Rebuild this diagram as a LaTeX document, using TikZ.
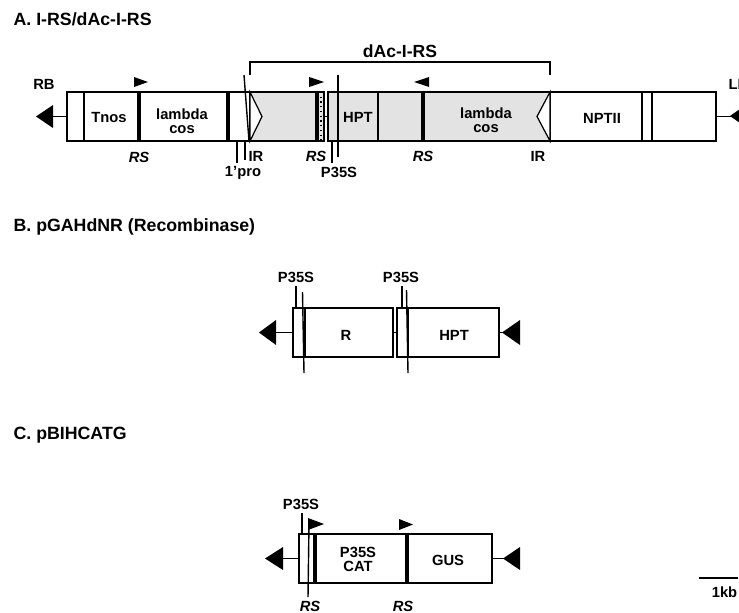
\documentclass[tikz,border=0pt]{standalone}
\usepackage{fontspec}
\setmainfont{Liberation Sans}
\begin{document}
\begin{tikzpicture}[x=0.02cm,y=-0.02cm,line width=0.7pt,font=\fontsize{8.4}{8.2}\selectfont\bfseries,align=center]
  \tikzstyle{part}=[draw,anchor=west,inner sep=0pt,outer sep=0pt,minimum height=0.98cm,minimum width=#1*0.02cm]
  \tikzstyle{grey}=[fill=black!11]
  \tikzstyle{title}=[anchor=west,inner sep=0pt,font=\fontsize{10.1}{12}\selectfont\bfseries]
  \tikzstyle{rs}=[font=\fontsize{8.4}{9.5}\selectfont\bfseries\itshape]
  \tikzstyle{bar}=[line width=2.2pt]
  \tikzstyle{hair}=[line width=0.8pt]
  \tikzstyle{stalk}=[line width=1.1pt]
  \useasboundingbox (0,0) rectangle (739,612);
  % A
  \node[title] (titleA) at (13,19) {A. I-RS/dAc-I-RS};
  \node[part=17] (rbend) at (67,116.5) {};
  \node[part=55] (tnos) at (84,116.5) {};
  \node[part=89] (lamA) at (139,116.5) {};
  \node[part=22] (pro) at (228,116.5) {};
  \node[part=74,grey] (ir) at (250,116.5) {};
  \node[part=10,grey] (pA) at (328,116.5) {};
  \node[part=40,grey] (hptA) at (338,116.5) {};
  \node[part=45,grey] (spacer) at (378,116.5) {};
  \node[part=127,grey] (lamB) at (423,116.5) {};
  \node[part=92] (nptii) at (550,116.5) {};
  \node[part=10] (gap) at (642,116.5) {};
  \node[part=64] (lbend) at (652,116.5) {};
  \draw[stalk] (ir.east) -- (pA.west);
  \draw[fill=white] (ir.north west) -- (262,116.5) -- (ir.south west) -- cycle;
  \draw[fill=white] (lamB.north east) -- (537,116.5) -- (lamB.south east) -- cycle;
  \draw[bar] (tnos.north east) -- (tnos.south east);
  \draw[bar] (lamA.north east) -- (lamA.south east);
  \draw[bar] (317,92) -- (317,141);
  \draw[dotted] (321,92) -- (321,141);
  \draw[bar] (spacer.north east) -- (spacer.south east);
  \draw[line width=1pt] (hptA.north west) -- (hptA.south west);
  \node (tnost) at (109,117) {Tnos};
  \node (lamAt) at (182,121) {lambda\\cos};
  \node (hptAt) at (358,117) {HPT};
  \node (lamBt) at (486,120) {lambda\\cos};
  \node (npt) at (602,118) {NPTII};
  % pointers above and below
  \coordinate (slanttop) at (244,75);
  \coordinate (slantbot) at (249,141);
  \draw[hair] (slanttop) -- (slantbot);
  \draw[hair] (338,75) -- (338,157);
  \coordinate (braceL) at (250,75);
  \coordinate (braceR) at (550,75);
  \draw (braceL) -- (250,62) -- (550,62) -- (braceR);
  \node (dac) at (400,51) {\fontsize{10}{12}\selectfont dAc-I-RS};
  \fill (134,77) -- (148,82) -- (134,87) -- cycle;
  \fill (309,77) -- (324,82) -- (309,87) -- cycle;
  \fill (429,77) -- (414,82) -- (429,87) -- cycle;
  \draw[hair] (237,141) -- (237,163);
  \draw[hair] (245,141) -- (245,160);
  \draw[hair] (332,141) -- (332,163);
  \node (rb) at (44,84) {RB};
  \node[anchor=west,inner sep=0pt] (lb) at (728,84) {LB};
  \coordinate (rbtip) at (53,116.5);
  \draw[stalk] (rbend.west) -- (rbtip);
  \fill (36,116.5) -- (53,105) -- (53,128) -- cycle;
  \coordinate (lbtip) at (731,116.5);
  \draw[stalk] (lbend.east) -- (lbtip);
  \fill (730,116) -- (747,104) -- (747,128) -- cycle;
  \node[rs] (rs1) at (139,157) {RS};
  \node (ir1) at (256,156) {IR};
  \node (pro1) at (243,173) {1'pro};
  \node[rs] (rs2) at (316,156) {RS};
  \node (p35a) at (339,172) {P35S};
  \node[rs] (rs3) at (423,156) {RS};
  \node (ir2) at (538,156) {IR};
  % B
  \node[title] (titleB) at (13,227) {B. pGAHdNR (Recombinase)};
  \node[part=12] (pB1) at (293,332.5) {};
  \node[part=88] (r) at (305,332.5) {};
  \node[part=11] (pB2) at (397,332.5) {};
  \node[part=91] (hptB) at (408,332.5) {};
  \draw[stalk] (r.east) -- (pB2.west);
  \draw[line width=1.4pt] (r.north west) -- (r.south west);
  \draw[line width=1.4pt] (hptB.north west) -- (hptB.south west);
  \node (rt) at (346,335) {R};
  \node (hptBt) at (454,335) {HPT};
  \draw[hair] (296,286) -- (296,308);
  \draw[hair] (302.5,292) -- (304,373);
  \draw[hair] (402,286) -- (402,308);
  \draw[hair] (406.5,290) -- (408,373);
  \coordinate (tipB) at (276,332.5);
  \draw[stalk] (pB1.west) -- (tipB);
  \fill (259,332.5) -- (276,320) -- (276,345) -- cycle;
  \coordinate (tipC) at (503,332.5);
  \draw[stalk] (hptB.east) -- (tipC);
  \fill (502,332.5) -- (520,320) -- (520,345) -- cycle;
  \node (p35b) at (296,277) {P35S};
  \node (p35c) at (401,277) {P35S};
  % C
  \node[title] (titleC) at (13,435) {C. pBIHCATG};
  \node[part=16] (pC) at (299,558.5) {};
  \node[part=92] (cat) at (315,558.5) {};
  \node[part=85] (gus) at (407,558.5) {};
  \draw[bar,line width=2.8pt] (cat.north west) -- (cat.south west);
  \draw[bar,line width=2.8pt] (gus.north west) -- (gus.south west);
  \node (catt) at (358,559.5) {P35S\\CAT};
  \node (gust) at (448,560) {GUS};
  \draw[hair] (309,523) -- (308,597);
  \draw[hair] (302,513) -- (302,534);
  \fill (308,518) -- (324,524) -- (308,530) -- cycle;
  \fill (399,519) -- (413,524.5) -- (399,530) -- cycle;
  \coordinate (tipD) at (283,558.5);
  \draw[stalk] (pC.west) -- (tipD);
  \fill (265,558.5) -- (283,547) -- (283,570) -- cycle;
  \coordinate (tipE) at (504,558.5);
  \draw[stalk] (gus.east) -- (tipE);
  \fill (503,558.5) -- (520,547) -- (520,570) -- cycle;
  \node (p35d) at (301,504) {P35S};
  \node[rs] (rs4) at (310,606) {RS};
  \node[rs] (rs5) at (403,606) {RS};
  % scale
  \coordinate (scaleL) at (699,578);
  \coordinate (scaleR) at (738,578);
  \draw (scaleL) -- (scaleR);
  \node (kb) at (724.5,592) {1kb};
\end{tikzpicture}
\end{document}
